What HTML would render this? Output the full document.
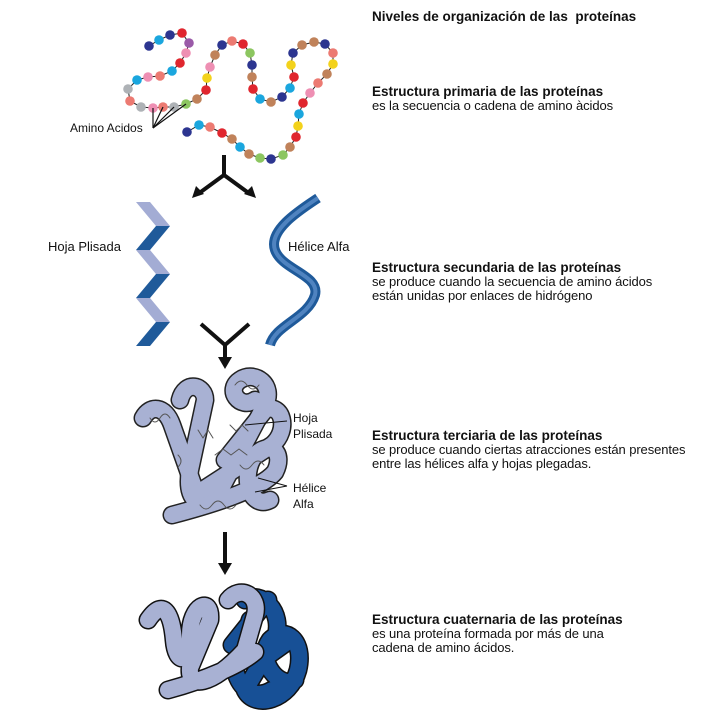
<!DOCTYPE html>
<html><head><meta charset="utf-8">
<style>
body{margin:0;background:#fff;}
#c{position:relative;width:720px;height:720px;overflow:hidden;font-family:"Liberation Sans",sans-serif;color:#111;}
.t{position:absolute;left:372px;font-size:13px;line-height:14px;letter-spacing:-0.1px;}
.t b{font-size:13.5px;display:block;margin-bottom:0px;letter-spacing:0;}
.lbl{position:absolute;font-size:13px;line-height:17px;}
svg{position:absolute;left:0;top:0;}
</style></head>
<body>
<div id="c">
<svg width="720" height="720">
  <g id="chain"></g>
  <g stroke="#111" stroke-width="1.2">
    <line x1="153" y1="128" x2="153" y2="108"/><line x1="153" y1="128" x2="163" y2="107"/>
    <line x1="153" y1="128" x2="174" y2="107"/><line x1="153" y1="128" x2="186" y2="104"/>
  </g>
  <g stroke="#111" stroke-width="4" fill="none">
    <path d="M224,155 V175 L198,194 M224,175 L250,194"/>
  </g>
  <polygon points="192,198 196,186 204,194" fill="#111"/>
  <polygon points="256,198 252,186 244,194" fill="#111"/>
  <g stroke="#111" stroke-width="4" fill="none">
    <path d="M201,324 L225,345 L249,324 M225,345 V358"/>
  </g>
  <polygon points="218,357 232,357 225,369" fill="#111"/>
  <g>
    <line x1="225" y1="532" x2="225" y2="565" stroke="#111" stroke-width="4"/>
    <polygon points="218,563 232,563 225,575" fill="#111"/>
  </g>
  <g id="sheet"></g>
  <g fill="none">
    <path d="M318,198 C300,210 268,230 275,250 C282,270 320,275 315,295 C308,318 275,325 270,345" stroke="#1f5a9a" stroke-width="10"/>
    <path d="M318,198 C300,210 268,230 275,250 C282,270 320,275 315,295 C308,318 275,325 270,345" stroke="#4f83c0" stroke-width="4"/>
  </g>
  <g fill="none" stroke-linecap="round" stroke-linejoin="round">
    <g stroke="#222" stroke-width="19">
      <path d="M143,418 C150,405 165,405 172,425 L195,490"/>
      <path d="M180,400 C185,380 205,385 205,400 L190,470 C185,500 200,510 215,500 L265,405 C275,385 255,370 240,380 C225,390 240,410 255,400"/>
      <path d="M195,495 L272,445 C290,430 282,402 265,410 L225,460"/>
      <path d="M172,515 C210,505 260,490 275,472 C285,452 270,440 255,455 C240,475 250,510 270,500"/>
    </g>
    <g stroke="#a8b1d3" stroke-width="16">
      <path d="M143,418 C150,405 165,405 172,425 L195,490"/>
      <path d="M180,400 C185,380 205,385 205,400 L190,470 C185,500 200,510 215,500 L265,405 C275,385 255,370 240,380 C225,390 240,410 255,400"/>
      <path d="M195,495 L272,445 C290,430 282,402 265,410 L225,460"/>
      <path d="M172,515 C210,505 260,490 275,472 C285,452 270,440 255,455 C240,475 250,510 270,500"/>
    </g>
    <path d="M150,418 q5,8 10,0 t10,0 M198,430 l5,8 l5,-8 l5,8 M215,455 l8,-6 l8,6 l8,-6 l8,6 M240,465 q6,8 12,0 t12,0 M200,505 q6,8 12,0 t12,0 t12,0 M235,385 q6,-8 12,0 t12,0 M178,455 q6,6 0,12 M230,425 l6,6 l6,-6 l6,6" stroke="#555" stroke-width="1"/>
  </g>
  <g stroke="#111" stroke-width="1">
    <line x1="245" y1="425" x2="287" y2="421"/>
    <line x1="258" y1="478" x2="287" y2="486"/><line x1="255" y1="492" x2="287" y2="486"/>
  </g>
  <g fill="none" stroke-linecap="round" stroke-linejoin="round">
    <g stroke="#111" stroke-width="19">
      <path d="M245,600 C260,590 285,610 275,640 L245,690 C255,710 290,700 298,670 C305,640 285,625 270,640 C255,660 280,690 295,680 M232,645 L268,600 M250,620 L235,670 C240,690 255,700 272,690 M262,660 L290,640"/>
    </g>
    <g stroke="#175096" stroke-width="16">
      <path d="M245,600 C260,590 285,610 275,640 L245,690 C255,710 290,700 298,670 C305,640 285,625 270,640 C255,660 280,690 295,680 M232,645 L268,600 M250,620 L235,670 C240,690 255,700 272,690 M262,660 L290,640"/>
    </g>
    <path d="M148,620 C165,595 172,618 174,640 C176,665 190,665 190,635 C190,605 212,595 210,620 L190,668 C188,688 210,688 245,650 L255,615 C260,595 240,585 228,600 M168,690 C205,680 240,665 255,652" stroke="#111" stroke-width="19"/>
    <path d="M148,620 C165,595 172,618 174,640 C176,665 190,665 190,635 C190,605 212,595 210,620 L190,668 C188,688 210,688 245,650 L255,615 C260,595 240,585 228,600 M168,690 C205,680 240,665 255,652" stroke="#a8b1d3" stroke-width="16"/>
  </g>
</svg>
<div class="lbl" style="left:70px;top:120px;font-size:12px">Amino Acidos</div>
<div class="lbl" style="left:48px;top:238px">Hoja Plisada</div>
<div class="lbl" style="left:288px;top:238px">Hélice Alfa</div>
<div class="lbl" style="left:293px;top:410px;font-size:12px;line-height:16px">Hoja<br>Plisada</div>
<div class="lbl" style="left:293px;top:480px;font-size:12px;line-height:16px">Hélice<br>Alfa</div>
<div class="t" style="top:10px"><b>Niveles de organización de las&nbsp; proteínas</b></div>
<div class="t" style="top:85px"><b>Estructura primaria de las proteínas</b>es la secuencia o cadena de amino àcidos</div>
<div class="t" style="top:261px"><b>Estructura secundaria de las proteínas</b>se produce cuando la secuencia de amino ácidos<br>están unidas por enlaces de hidrógeno</div>
<div class="t" style="top:429px"><b>Estructura terciaria de las proteínas</b>se produce cuando ciertas atracciones están presentes<br>entre las hélices alfa y hojas plegadas.</div>
<div class="t" style="top:613px"><b>Estructura cuaternaria de las proteínas</b>es una proteína formada por más de una<br>cadena de amino ácidos.</div>
</div>
<script>
var NS="http://www.w3.org/2000/svg";
var px=[149,159,170,182,189,186,180,172,160,148,137,128,130,141,153,163,174,186,197,206,207,210,215,222,232,243,250,252,252,253,260,271,282,290,294,291,293,302,314,325,333,333,327,318,310,303,299,298,296,290,283,271,260,249,240,232,222,210,199,187];
var py=[46,40,35,33,43,53,63,71,76,77,80,89,101,107,108,107,107,104,99,90,78,67,55,45,41,44,53,65,77,89,99,102,97,88,77,65,53,45,42,44,53,64,74,83,93,103,114,126,137,147,155,159,158,154,147,139,133,127,125,132];
var cols={n:"#2c3590",c:"#1aa6de",r:"#e0262e",p:"#9a5aa8",k:"#ee8fb3",s:"#ec7a72",g:"#aeb2b6",G:"#8cc660",b:"#c0825a",y:"#f3d21b"};
var seq="ncnrpkrcskcgsgksgGbrykbnsrGnbrcbncrynbbnsybskrcyrbGnGbcbrscn".split("");
var g=document.getElementById("chain");
var pl=document.createElementNS(NS,"polyline");
pl.setAttribute("points",px.map(function(x,i){return x+","+py[i];}).join(" "));
pl.setAttribute("fill","none");pl.setAttribute("stroke","#222");pl.setAttribute("stroke-width","1");


g.appendChild(pl);
for(var i=0;i<px.length;i++){
  var c=document.createElementNS(NS,"circle");
  c.setAttribute("cx",px[i]);c.setAttribute("cy",py[i]);c.setAttribute("r","4.8");
  c.setAttribute("fill",cols[seq[i]]||"#888");
  
  
  g.appendChild(c);
}
var sh=document.getElementById("sheet");
var top0=202,step=24;
for(var j=0;j<6;j++){
  var y=top0+j*step, dark=j%2==1;
  var p=document.createElementNS(NS,"polygon");
  var pts = (j%2==0)
   ? [136,y,150,y,170,y+step/2+12,156,y+step/2+12]
   : [156,y,170,y,150,y+step/2+12,136,y+step/2+12];
  p.setAttribute("points",pts.join(","));
  p.setAttribute("fill",dark?"#1f5a9a":"#a3acd4");
  
  
  sh.appendChild(p);
}
</script>
</body></html>
